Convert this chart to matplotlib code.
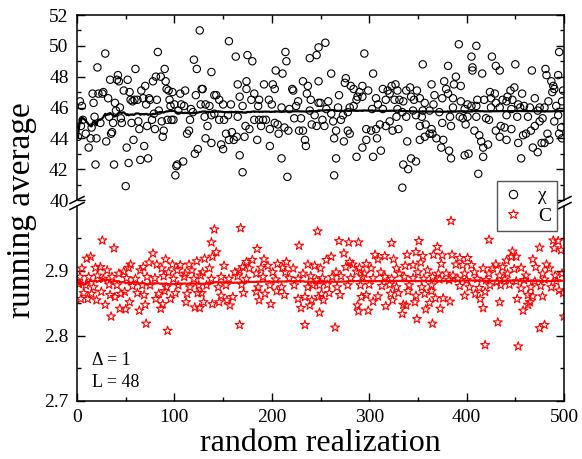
import numpy as np
import matplotlib
matplotlib.use("Agg")
import matplotlib.pyplot as plt
from matplotlib.lines import Line2D
from matplotlib.ticker import MultipleLocator

plt.rcParams["font.family"] = ["Liberation Serif", "DejaVu Serif"]

# chi (susceptibility) values per random realization
chi_seg1 = [(1, 44.1), (3, 46.4), (4, 44.8), (5, 46.1), (6, 45.2), (9, 44.3), (12, 43.4), (14, 44.0),
            (15, 44.7), (16, 46.9), (17, 46.3), (18, 45.4), (19, 42.3), (20, 44.0), (21, 48.6), (22, 46.9),
            (24, 45.0), (26, 46.9), (27, 47.0), (29, 49.5), (30, 43.8), (32, 46.6), (33, 45.4), (34, 47.8),
            (35, 44.3), (36, 44.4), (37, 45.0), (38, 42.3), (39, 46.3), (40, 45.8), (41, 47.8), (42, 48.1),
            (43, 47.7), (44, 46.0), (45, 45.3), (46, 45.0), (48, 47.1), (50, 40.9), (51, 43.4), (52, 47.8),
            (53, 42.4), (54, 47.0), (55, 46.5), (56, 45.0), (57, 46.4), (58, 43.9), (59, 46.5), (60, 48.5),
            (62, 46.5), (63, 45.1), (64, 44.6), (65, 42.6), (66, 47.1), (68, 46.6), (69, 43.5), (70, 47.4),
            (71, 46.2), (72, 44.8), (73, 42.7), (74, 46.6), (75, 46.5), (77, 45.2), (78, 47.7), (79, 45.6),
            (80, 44.6), (81, 48.0), (82, 46.5), (83, 49.6), (84, 45.8), (86, 48.0), (87, 45.1), (88, 44.1),
            (89, 44.5), (90, 48.5), (91, 47.7), (92, 47.2), (93, 45.2), (94, 47.1), (95, 46.5), (96, 46.1),
            (97, 45.2), (98, 47.0), (99, 45.2), (100, 46.2), (101, 41.6), (102, 42.2), (103, 42.3), (104, 45.8),
            (106, 46.9), (107, 46.2), (109, 42.5), (110, 46.1), (111, 47.1), (113, 44.3), (115, 44.5), (116, 45.2),
            (117, 45.9), (119, 45.7), (120, 49.1), (121, 43.0), (122, 46.8), (123, 48.5), (124, 43.3), (126, 51.0),
            (127, 46.2), (128, 47.2)]
chi_seg2 = [(129, 47.2), (131, 45.4), (132, 46.2), (132, 44.0), (134, 44.8), (136, 46.1), (138, 48.3), (138, 45.5),
            (138, 43.7), (141, 46.8), (141, 45.6), (143, 46.8), (146, 46.5), (146, 45.2), (148, 43.6), (150, 46.2),
            (150, 43.3), (151, 45.2), (153, 44.3), (155, 45.5), (156, 50.3), (156, 43.9), (158, 46.2), (159, 44.4),
            (161, 43.9), (163, 49.3), (164, 44.1), (165, 47.5), (165, 45.4), (167, 46.7), (167, 42.9), (170, 46.1),
            (170, 41.8), (172, 44.1), (173, 44.8), (174, 47.2), (174, 47.7), (175, 49.4), (177, 44.6), (179, 46.5),
            (180, 49.0), (182, 46.9), (182, 45.2), (185, 43.9), (186, 46.1), (187, 46.5), (187, 45.2), (189, 44.8),
            (191, 45.2), (192, 47.5), (194, 45.2), (197, 46.5), (198, 44.6), (198, 43.5), (200, 46.2), (201, 47.5),
            (203, 47.2), (203, 45.0), (204, 48.4), (206, 44.9), (207, 44.3), (210, 46.0), (210, 42.7), (211, 48.2),
            (213, 44.7), (214, 49.6), (215, 49.0), (216, 41.5), (217, 44.5), (218, 45.9), (221, 47.2), (222, 47.1),
            (223, 45.3), (225, 46.1), (227, 46.4), (228, 44.5), (230, 45.3), (232, 47.7), (232, 44.5), (234, 43.9),
            (235, 43.5), (236, 46.9), (237, 47.4), (239, 49.2), (239, 45.8), (240, 46.5), (241, 44.9), (244, 45.5),
            (246, 49.4), (246, 44.8), (248, 49.9), (248, 47.7), (248, 46.3)]
chi_seg3 = [(250, 46.3), (252, 45.2), (254, 44.8), (255, 50.2), (256, 45.9), (258, 46.4), (261, 48.2), (261, 45.6),
            (263, 45.1), (264, 44.0), (264, 41.6), (266, 44.5), (266, 42.7), (268, 46.0), (269, 46.8), (271, 45.2),
            (273, 45.5), (274, 43.8), (275, 47.6), (276, 47.9), (278, 45.7), (278, 44.5), (280, 46.0), (280, 44.3),
            (281, 47.4), (284, 47.2), (284, 46.1), (287, 46.5), (287, 42.8), (288, 46.7), (290, 47.0), (293, 47.4),
            (293, 46.7), (293, 43.4), (295, 49.5), (297, 44.6), (297, 43.9), (299, 47.1), (302, 44.5), (303, 45.9),
            (304, 48.2), (304, 42.8), (307, 46.6), (307, 44.6), (308, 44.0), (309, 46.2), (311, 44.9), (312, 43.2),
            (314, 47.2), (314, 45.9), (317, 46.5), (317, 44.8), (319, 47.1), (321, 46.9), (321, 45.1), (323, 47.4),
            (324, 44.5), (326, 46.5), (327, 47.5), (328, 45.4), (329, 47.1), (329, 45.9), (330, 44.6), (331, 46.5),
            (334, 45.7), (334, 40.8), (335, 46.4), (335, 42.3), (338, 47.1), (338, 45.4), (339, 43.8), (340, 42.0),
            (342, 47.3), (343, 46.7), (343, 42.7), (345, 45.8), (346, 46.5), (348, 45.5), (348, 42.5), (349, 47.1),
            (352, 46.6), (352, 44.8), (352, 43.9), (354, 45.4), (355, 48.8), (355, 45.8), (357, 46.3), (357, 44.1),
            (358, 44.9), (362, 45.8), (362, 44.3), (364, 47.5), (364, 44.6), (365, 44.3), (366, 46.2), (367, 46.8),
            (369, 44.0)]
chi_seg4 = [(372, 45.7), (374, 43.4), (375, 45.0), (375, 46.6), (376, 43.9), (377, 47.7), (379, 47.2), (381, 48.7),
            (381, 46.9), (382, 43.2), (383, 45.4), (384, 44.8), (384, 42.7), (386, 46.6), (386, 46.0), (387, 47.5),
            (389, 48.0), (392, 50.1), (393, 45.4), (394, 47.4), (394, 46.4), (396, 45.3), (398, 45.9), (398, 42.9),
            (399, 44.9), (401, 46.2), (401, 45.4), (402, 43.0), (405, 49.3), (405, 46.1), (406, 48.4), (406, 48.6),
            (408, 44.5), (410, 50.0), (410, 46.1), (410, 45.4), (411, 46.5), (412, 41.7), (413, 44.2), (415, 43.8),
            (416, 48.2), (417, 42.8), (417, 43.4), (418, 46.5), (420, 45.3), (422, 43.6), (423, 45.2), (424, 47.0),
            (425, 46.6), (425, 46.0), (426, 49.3), (429, 46.9), (430, 48.7), (430, 46.3), (430, 44.5), (434, 48.4),
            (434, 46.0), (434, 44.1), (435, 44.8), (437, 46.5), (439, 44.7), (441, 46.4), (441, 45.5), (441, 43.9),
            (442, 46.7), (445, 47.1), (446, 45.9), (446, 44.6), (447, 46.5), (449, 47.3), (450, 48.8), (452, 45.4),
            (453, 46.2), (453, 43.7), (455, 46.0), (456, 42.7), (457, 46.9), (458, 44.2), (459, 46.1), (461, 44.3),
            (463, 45.4), (465, 46.0), (466, 44.5), (467, 48.4), (468, 43.4), (470, 46.6), (470, 44.8), (473, 45.8),
            (473, 43.1), (475, 46.0), (475, 45.1), (477, 43.7), (478, 45.3), (480, 46.0), (480, 43.7), (481, 48.5),
            (482, 48.1), (483, 44.3), (484, 46.4), (485, 43.9), (487, 47.7), (488, 47.0), (489, 47.4), (490, 47.2),
            (490, 45.1), (492, 46.1), (494, 48.1), (494, 45.5), (495, 49.6), (495, 44.3), (497, 44.7), (498, 46.4),
            (498, 44.0), (499, 47.1)]

# specific heat C values per random realization
c_seg1 = [(2, 2.880), (3, 2.891), (4, 2.857), (5, 2.904), (7, 2.866), (9, 2.878), (10, 2.919), (11, 2.857),
          (12, 2.891), (14, 2.922), (15, 2.865), (17, 2.875), (19, 2.905), (20, 2.855), (21, 2.893), (24, 2.906),
          (25, 2.868), (26, 2.947), (27, 2.888), (29, 2.848), (31, 2.901), (33, 2.879), (34, 2.863), (35, 2.830),
          (36, 2.891), (38, 2.935), (39, 2.860), (41, 2.878), (43, 2.896), (44, 2.842), (45, 2.865), (48, 2.899),
          (49, 2.868), (50, 2.841), (51, 2.889), (53, 2.905), (54, 2.852), (55, 2.910), (57, 2.877), (60, 2.888),
          (62, 2.866), (64, 2.839), (65, 2.901), (67, 2.878), (68, 2.906), (69, 2.863), (70, 2.848), (71, 2.819),
          (72, 2.891), (74, 2.913), (75, 2.878), (78, 2.927), (80, 2.889), (81, 2.857), (82, 2.910), (84, 2.865),
          (86, 2.842), (87, 2.904), (88, 2.849), (89, 2.892), (90, 2.869), (91, 2.918), (92, 2.875), (93, 2.808),
          (94, 2.898), (96, 2.857), (98, 2.910), (99, 2.888), (101, 2.866), (103, 2.901), (104, 2.878), (106, 2.909),
          (110, 2.891), (111, 2.896), (112, 2.852), (113, 2.865), (115, 2.910), (116, 2.875), (118, 2.901),
          (120, 2.888), (121, 2.844), (123, 2.915), (124, 2.866), (125, 2.878), (126, 2.843), (127, 2.893)]
c_seg2 = [(128, 2.866), (129, 2.898), (130, 2.852), (131, 2.919), (133, 2.878), (136, 2.904), (138, 2.888),
          (138, 2.944), (139, 2.849), (139, 2.922), (141, 2.964), (143, 2.929), (145, 2.875), (146, 2.852),
          (148, 2.891), (148, 2.862), (151, 2.908), (153, 2.878), (154, 2.855), (156, 2.888), (157, 2.847),
          (160, 2.860), (162, 2.898), (165, 2.892), (167, 2.901), (167, 2.817), (168, 2.966), (169, 2.879),
          (170, 2.906), (171, 2.866), (174, 2.914), (174, 2.888), (177, 2.904), (180, 2.917), (184, 2.896),
          (184, 2.868), (185, 2.934), (186, 2.875), (187, 2.855), (189, 2.905), (191, 2.891), (192, 2.918),
          (193, 2.865), (196, 2.908), (198, 2.878), (199, 2.849), (201, 2.898), (204, 2.887), (205, 2.869),
          (206, 2.911), (210, 2.875), (211, 2.905), (213, 2.863), (214, 2.898), (215, 2.914), (218, 2.889),
          (222, 2.904), (223, 2.878), (227, 2.888), (227, 2.857), (228, 2.939), (230, 2.843), (232, 2.896),
          (234, 2.860), (234, 2.817), (237, 2.910), (237, 2.875), (239, 2.847), (240, 2.892), (241, 2.855),
          (242, 2.878), (244, 2.908), (246, 2.886), (247, 2.961), (248, 2.860), (249, 2.836)]
c_seg3 = [(249, 2.878), (250, 2.904), (251, 2.865), (252, 2.889), (253, 2.855), (256, 2.917), (257, 2.879),
          (259, 2.866), (261, 2.922), (262, 2.891), (265, 2.813), (266, 2.898), (267, 2.875), (269, 2.946),
          (270, 2.863), (271, 2.892), (274, 2.927), (276, 2.906), (278, 2.878), (279, 2.944), (280, 2.914),
          (281, 2.889), (283, 2.910), (287, 2.899), (288, 2.847), (289, 2.944), (289, 2.838), (290, 2.905),
          (291, 2.878), (292, 2.860), (293, 2.891), (295, 2.896), (297, 2.911), (297, 2.863), (299, 2.839),
          (300, 2.879), (302, 2.904), (304, 2.889), (304, 2.853), (306, 2.925), (309, 2.918), (309, 2.861),
          (312, 2.898), (313, 2.877), (316, 2.923), (316, 2.891), (317, 2.846), (321, 2.879), (322, 2.865),
          (323, 2.943), (323, 2.888), (324, 2.855), (325, 2.918), (328, 2.904), (328, 2.875), (330, 2.866),
          (331, 2.896), (334, 2.834), (335, 2.848), (336, 2.891), (337, 2.908), (338, 2.847), (339, 2.925),
          (340, 2.869), (341, 2.878), (345, 2.909), (345, 2.889), (347, 2.852), (348, 2.929), (348, 2.862),
          (349, 2.826), (350, 2.898), (351, 2.946), (353, 2.913), (354, 2.875), (355, 2.923), (356, 2.888),
          (357, 2.865), (358, 2.841), (360, 2.901), (362, 2.851), (364, 2.869), (364, 2.878), (365, 2.891),
          (365, 2.819), (366, 2.925), (368, 2.858), (370, 2.937), (371, 2.896), (373, 2.842)]
c_seg4 = [(372, 2.887), (374, 2.911), (375, 2.924), (376, 2.858), (379, 2.896), (382, 2.886), (383, 2.853),
          (384, 2.977), (385, 2.925), (386, 2.893), (389, 2.910), (391, 2.888), (393, 2.920), (393, 2.877),
          (396, 2.909), (398, 2.896), (398, 2.862), (400, 2.886), (401, 2.920), (403, 2.875), (405, 2.909),
          (408, 2.898), (409, 2.865), (411, 2.888), (413, 2.874), (414, 2.857), (417, 2.904), (417, 2.843),
          (419, 2.868), (419, 2.786), (420, 2.886), (423, 2.948), (423, 2.896), (424, 2.878), (427, 2.904),
          (430, 2.910), (431, 2.883), (432, 2.821), (434, 2.893), (434, 2.852), (435, 2.878), (437, 2.906),
          (439, 2.887), (441, 2.916), (442, 2.896), (444, 2.879), (446, 2.922), (447, 2.930), (449, 2.903),
          (451, 2.922), (451, 2.884), (452, 2.857), (453, 2.784), (456, 2.905), (456, 2.873), (458, 2.839),
          (459, 2.886), (461, 2.893), (463, 2.863), (463, 2.848), (465, 2.852), (466, 2.875), (468, 2.918),
          (468, 2.861), (470, 2.884), (471, 2.906), (475, 2.936), (475, 2.812), (476, 2.877), (478, 2.896),
          (478, 2.861), (480, 2.887), (480, 2.817), (482, 2.910), (485, 2.904), (487, 2.875), (489, 2.947),
          (490, 2.935), (491, 2.893), (492, 2.884), (494, 2.946), (495, 2.870), (497, 2.932), (498, 2.896),
          (499, 2.866), (500, 2.830)]

xticks = [0, 100, 200, 300, 400, 500]
chi_ticks = [40, 42, 44, 46, 48, 50, 52]
c_ticks = [2.7, 2.8, 2.9]


def split(*segs):
    pts = sorted(p for s in segs for p in s)
    x = np.array([p[0] for p in pts], dtype=float)
    y = np.array([p[1] for p in pts])
    return x, y


def running_average(y):
    return np.cumsum(y) / np.arange(1, len(y) + 1)


chi_x, chi_y = split(chi_seg1, chi_seg2, chi_seg3, chi_seg4)
c_x, c_y = split(c_seg1, c_seg2, c_seg3, c_seg4)

W, H = 582, 459
fig = plt.figure(figsize=(W / 100, H / 100), dpi=100)
left, right = 77, 564
ax1 = fig.add_axes([left / W, 1 - 200 / H, (right - left) / W, (200 - 15) / H])
ax2 = fig.add_axes([left / W, 1 - 401 / H, (right - left) / W, (401 - 206) / H])

ax1.scatter(chi_x, chi_y, s=28, facecolors="none", edgecolors="black", linewidths=0.8, zorder=2)
ax1.plot(chi_x, running_average(chi_y), color="black", lw=1.6, zorder=3)
ax2.scatter(c_x, c_y, s=46, marker="*", facecolors="none", edgecolors="red", linewidths=0.8, zorder=2)
ax2.plot(c_x, running_average(c_y), color="red", lw=1.6, zorder=3)

ax1.set_ylim(40, 52)
ax2.set_ylim(2.7, 3.0)
for ax in (ax1, ax2):
    ax.set_xlim(0, 500)
    ax.set_xticks(xticks)
    ax.xaxis.set_minor_locator(MultipleLocator(50))
    ax.tick_params(which="both", direction="in", left=True, right=True, labelsize=14, width=1, pad=6)
    ax.tick_params(which="major", length=5.5)
    ax.tick_params(which="minor", length=3)
    for sp in ax.spines.values():
        sp.set_linewidth(1.1)

ax1.set_yticks(chi_ticks)
ax1.yaxis.set_minor_locator(MultipleLocator(1))
ax1.spines["bottom"].set_visible(False)
ax1.tick_params(which="both", bottom=False, top=True, labelbottom=False)

ax2.set_yticks(c_ticks)
ax2.set_yticks([2.75, 2.85, 2.95], minor=True)
ax2.set_yticklabels(["2.7", "2.8", "2.9"])
ax2.spines["top"].set_visible(False)
ax2.tick_params(which="both", top=False, bottom=True)

# break marks on both vertical spines
for xb in (left, right):
    for yb in (200, 206):
        fig.add_artist(Line2D([(xb - 7) / W, (xb + 7) / W], [1 - (yb + 3.5) / H, 1 - (yb - 3.5) / H],
                              color="black", lw=1.1, transform=fig.transFigure))

ax2.text(0.031, 0.21, "\u0394 = 1", transform=ax2.transAxes, fontsize=13, va="center")
ax2.text(0.031, 0.095, "L = 48", transform=ax2.transAxes, fontsize=13, va="center")

ax2.set_xlabel("random realization", fontsize=23, labelpad=2)
fig.text(22 / W, 1 - 210 / H, "running average", rotation=90, fontsize=24, ha="center", va="center")

handles = [Line2D([], [], ls="none", marker="o", mfc="none", mec="black", ms=6, mew=0.8),
           Line2D([], [], ls="none", marker="*", mfc="none", mec="red", ms=7.5, mew=0.8)]
leg = fig.legend(handles, ["\u03c7", "C"], loc="upper left", bbox_to_anchor=(497 / W, 1 - 181 / H),
                 fontsize=14, frameon=True, fancybox=False, edgecolor="#555555", framealpha=1,
                 handlelength=1.0, handletextpad=0.8, borderpad=0.3, labelspacing=0.15, borderaxespad=0)
leg.get_frame().set_linewidth(1.0)

fig.savefig("out.png", dpi=100)
